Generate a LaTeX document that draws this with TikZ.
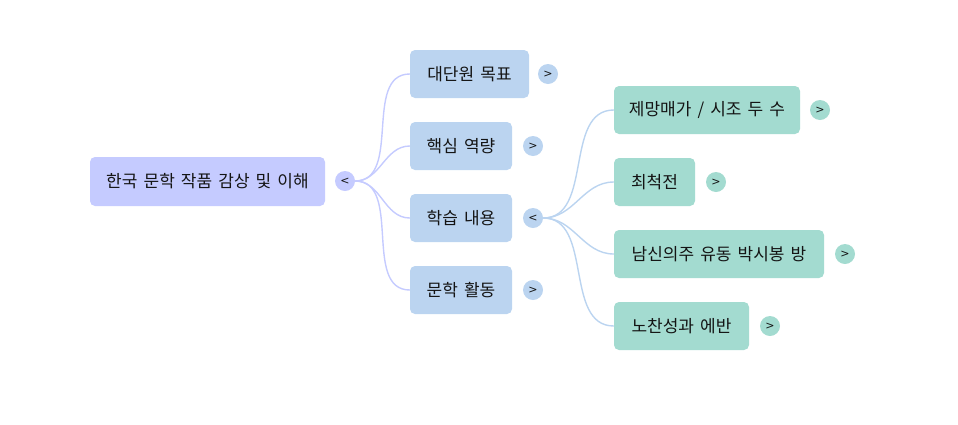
\documentclass[tikz,border=0pt]{standalone}
\usepackage{fontspec}
\setmainfont[WordSpace=1.6]{Noto Sans CJK KR}
\newfontfamily\togglefont{DejaVu Sans}
\usepackage{tikz}
\usetikzlibrary{positioning}

\definecolor{rootfill}{RGB}{197,203,255}
\definecolor{topicfill}{RGB}{187,212,240}
\definecolor{itemfill}{RGB}{163,219,208}
\definecolor{textcol}{RGB}{20,20,20}

\begin{document}
\begin{tikzpicture}[x=1pt,y=-1pt,
	box/.style={rounded corners=5pt,inner sep=0pt,minimum height=48pt,
		text=textcol,font=\fontsize{17}{20}\selectfont},
	root node/.style={box,fill=rootfill,minimum height=49pt},
	topic node/.style={box,fill=topicfill},
	item node/.style={box,fill=itemfill},
	toggle/.style={circle,inner sep=0pt,minimum size=20pt,text=textcol,
		font=\togglefont\fontsize{11}{13}\selectfont},
	link/.style={line width=1.4pt,out=0,in=180}]
	
	\useasboundingbox (0,0) rectangle (958,424);
	
	% root
	\node[root node,minimum width=235pt] (root) at (207.5,181.5) {한국 문학 작품 감상 및 이해};
	\node[toggle,fill=rootfill] (rootT) at (345,181) {<};
	
	% first level
	\node[topic node,minimum width=119pt] (goal) at (469.5,74) {대단원 목표};
	\node[topic node,minimum width=102pt] (core) at (461,146) {핵심 역량};
	\node[topic node,minimum width=102pt] (learn) at (461,218) {학습 내용};
	\node[topic node,minimum width=102pt] (act) at (461,290) {문학 활동};
	\node[toggle,fill=topicfill] (goalT) at (548,74) {>};
	\node[toggle,fill=topicfill] (coreT) at (533,146) {>};
	\node[toggle,fill=topicfill] (learnT) at (533,218) {<};
	\node[toggle,fill=topicfill] (actT) at (533,290) {>};
	
	% second level
	\node[item node,minimum width=186pt] (poem) at (707,110) {제망매가 / 시조 두 수};
	\node[item node,minimum width=81pt] (choi) at (654.5,182) {최척전};
	\node[item node,minimum width=210pt] (baek) at (719,254) {남신의주 유동 박시봉 방};
	\node[item node,minimum width=135pt] (noch) at (681.5,326) {노찬성과 에반};
	\node[toggle,fill=itemfill] (poemT) at (820,110) {>};
	\node[toggle,fill=itemfill] (choiT) at (716,182) {>};
	\node[toggle,fill=itemfill] (baekT) at (845,254) {>};
	\node[toggle,fill=itemfill] (nochT) at (770,326) {>};
	
	\path[link,draw=rootfill]
	(rootT.east) edge (goal.west)
	(rootT.east) edge (core.west)
	(rootT.east) edge (learn.west)
	(rootT.east) edge (act.west);
	
	\path[link,draw=topicfill]
	(learnT.east) edge (poem.west)
	(learnT.east) edge (choi.west)
	(learnT.east) edge (baek.west)
	(learnT.east) edge (noch.west);
\end{tikzpicture}
\end{document}
